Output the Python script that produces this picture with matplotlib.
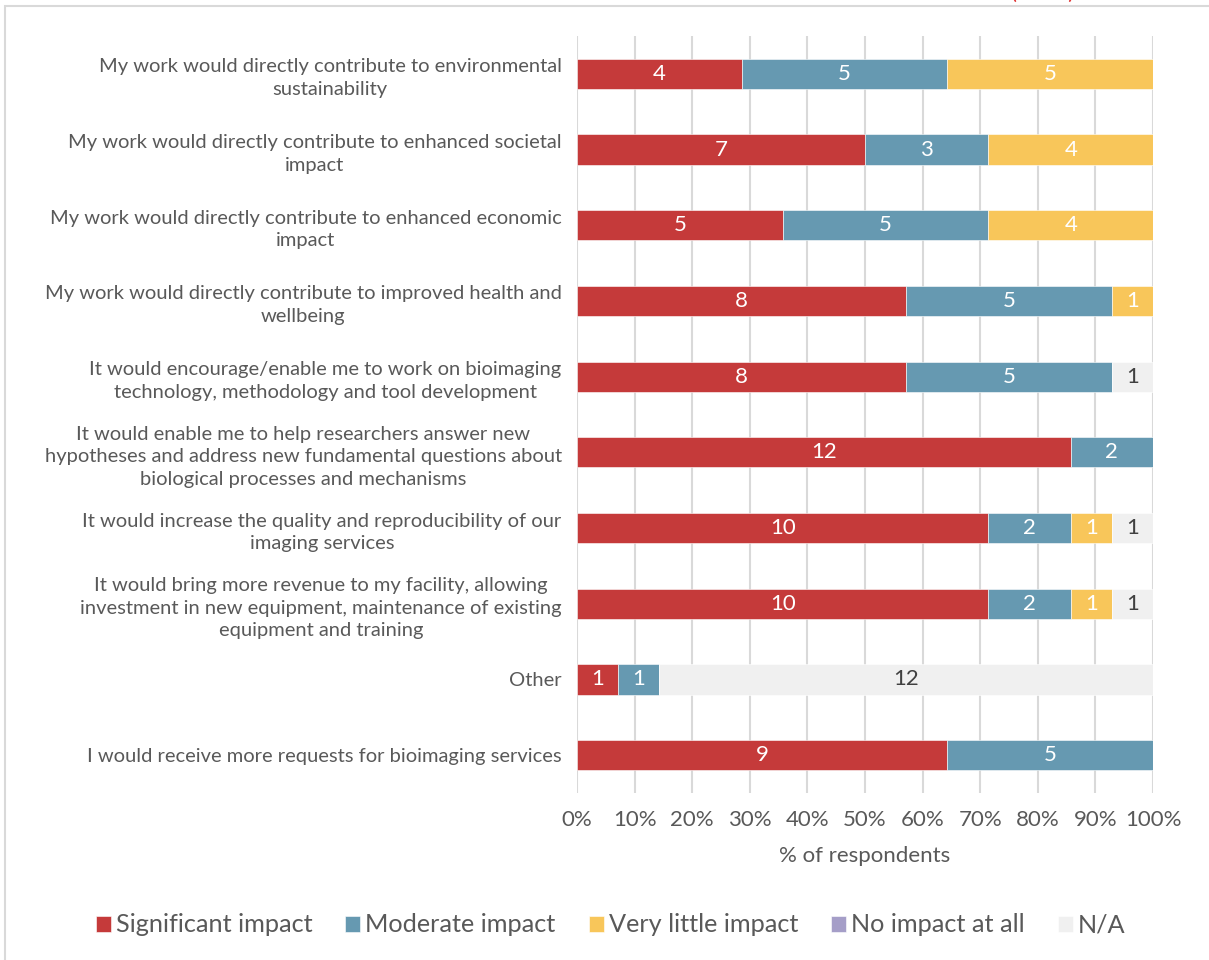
import numpy as np
import matplotlib.pyplot as plt
from matplotlib.patches import Rectangle

plt.rcParams['font.family'] = ['Lato', 'DejaVu Sans']

statements = [
    'My work would directly contribute to environmental\nsustainability',
    'My work would directly contribute to enhanced societal\nimpact',
    'My work would directly contribute to enhanced economic\nimpact',
    'My work would directly contribute to improved health and\nwellbeing',
    'It would encourage/enable me to work on bioimaging\ntechnology, methodology and tool development',
    'It would enable me to help researchers answer new\nhypotheses and address new fundamental questions about\nbiological processes and mechanisms',
    'It would increase the quality and reproducibility of our\nimaging services',
    'It would bring more revenue to my facility, allowing\ninvestment in new equipment, maintenance of existing\nequipment and training',
    'Other',
    'I would receive more requests for bioimaging services',
]

significant = [4, 7, 5, 8, 8, 12, 10, 10, 1, 9]
moderate = [5, 3, 5, 5, 5, 2, 2, 2, 1, 5]
very_little = [5, 4, 4, 1, 0, 0, 1, 1, 0, 0]
no_impact = [0, 0, 0, 0, 0, 0, 0, 0, 0, 0]
not_applicable = [0, 0, 0, 0, 1, 0, 1, 1, 12, 0]

series_names = ['Significant impact', 'Moderate impact', 'Very little impact',
                'No impact at all', 'N/A']
colors = ['#C53A3A', '#6699B1', '#F8C65A', '#A59EC8', '#F0F0F0']
text_colors = ['white', 'white', 'white', 'white', '#404040']

counts = np.array([significant, moderate, very_little, no_impact, not_applicable], dtype=float)
totals = counts.sum(axis=0)
shares = counts / totals

fig = plt.figure(figsize=(12.09, 9.6), dpi=100)
ax = fig.add_axes([577 / 1209, 1 - 793 / 960, 576 / 1209, 757 / 960])

# outer frame of the chart area
fig.patches.append(Rectangle((5 / 1209, -0.1), 1.1, 1.1 - 6 / 960,
                             transform=fig.transFigure, fill=False,
                             edgecolor='#D9D9D9', linewidth=1.5))
fig.text(1043 / 1209, 1 + 1 / 960, '(n=14)', color='#E03030', fontsize=16,
         ha='center', va='baseline')

y = np.arange(len(statements))
left = np.zeros(len(statements))
for i in range(len(series_names)):
    ax.barh(y, shares[i], left=left, height=0.4, color=colors[i],
            edgecolor='white', linewidth=0.4, label=series_names[i], zorder=3)
    for j in range(len(statements)):
        if counts[i, j] > 0:
            ax.text(left[j] + shares[i, j] / 2, y[j], '%d' % counts[i, j],
                    ha='center', va='center', color=text_colors[i],
                    fontsize=16, zorder=4)
    left += shares[i]

ax.set_xlim(0, 1)
ax.set_ylim(len(statements) - 0.5, -0.5)
ax.set_xticks(np.arange(0, 1.01, 0.1))
ax.set_xticklabels(['%d%%' % v for v in range(0, 101, 10)])
ax.set_yticks(y)
ax.set_yticklabels(statements, multialignment='center', linespacing=1.4)
ax.tick_params(axis='y', length=0, pad=11, labelsize=14.5, labelcolor='#595959')
ax.tick_params(axis='x', length=0, pad=12, labelsize=16, labelcolor='#595959')
ax.grid(axis='x', color='#D9D9D9', linewidth=1.5, zorder=0)
for s in ax.spines.values():
    s.set_visible(False)
ax.set_xlabel('% of respondents', fontsize=16, color='#595959', labelpad=12)

handles, labels = ax.get_legend_handles_labels()
fig.legend(handles, labels, loc='center', bbox_to_anchor=(0.505, 1 - 925 / 960),
           ncol=5, frameon=False, fontsize=18.2, labelcolor='#595959',
           handlelength=0.6, handleheight=0.6, handletextpad=0.2, columnspacing=1.3)

fig.savefig('out.png', dpi=100)
